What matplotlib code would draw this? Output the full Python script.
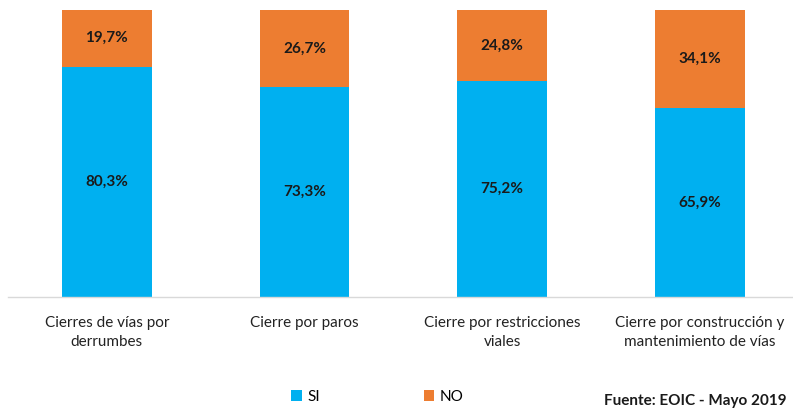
import matplotlib

matplotlib.use("agg")
import matplotlib.pyplot as plt
from matplotlib.patches import Patch
import numpy as np

CATEGORIES = [
    "Cierres de vías por\nderrumbes",
    "Cierre por paros",
    "Cierre por restricciones\nviales",
    "Cierre por construcción y\nmantenimiento de vías",
]
SI_VALUES = [80.3, 73.3, 75.2, 65.9]
NO_VALUES = [19.7, 26.7, 24.8, 34.1]

SI_COLOR = "#00B0F0"
NO_COLOR = "#ED7D31"

plt.rcParams["font.family"] = ["Lato", "DejaVu Sans"]

fig = plt.figure(figsize=(7.93, 4.09), dpi=100)
ax = fig.add_axes([8 / 793, 0.2738, 785 / 793, 0.7017])

positions = np.arange(len(CATEGORIES))
si = np.array(SI_VALUES)
no = np.array(NO_VALUES)
width = 0.455

ax.bar(positions, si, width=width, color=SI_COLOR)
ax.bar(positions, no, width=width, bottom=si, color=NO_COLOR)

for x, s, n in zip(positions, si, no):
    ax.text(x, s / 2, f"{s:.1f}%".replace(".", ","), ha="center", va="center",
            fontsize=11, fontweight="bold", color="#1a1a1a")
    ax.text(x, s + n / 2, f"{n:.1f}%".replace(".", ","), ha="center", va="center",
            fontsize=11, fontweight="bold", color="#1a1a1a")

ax.set_xlim(-0.5, -0.5 + 785 / 197.67)
ax.set_ylim(0, 100)
ax.set_yticks([])
ax.set_xticks(positions)
ax.set_xticklabels(CATEGORIES, fontsize=11, color="#222222", linespacing=1.45)
ax.tick_params(axis="x", length=0, pad=14)
for side in ("top", "right", "left"):
    ax.spines[side].set_visible(False)
ax.spines["bottom"].set_color("#D9D9D9")
ax.spines["bottom"].set_linewidth(1.0)

handles = [Patch(facecolor=SI_COLOR, label="SI"), Patch(facecolor=NO_COLOR, label="NO")]
fig.legend(handles=handles, loc="center", bbox_to_anchor=(0.476, 0.03), ncol=2,
           frameon=False, fontsize=11, handlelength=0.7, handleheight=0.7,
           handletextpad=0.35, columnspacing=6.8)

fig.text(0.992, 0.02, "Fuente: EOIC - Mayo 2019", ha="right", va="center",
         fontsize=11, fontweight="bold", color="#1a1a1a")

fig.savefig("out.png", dpi=100)
